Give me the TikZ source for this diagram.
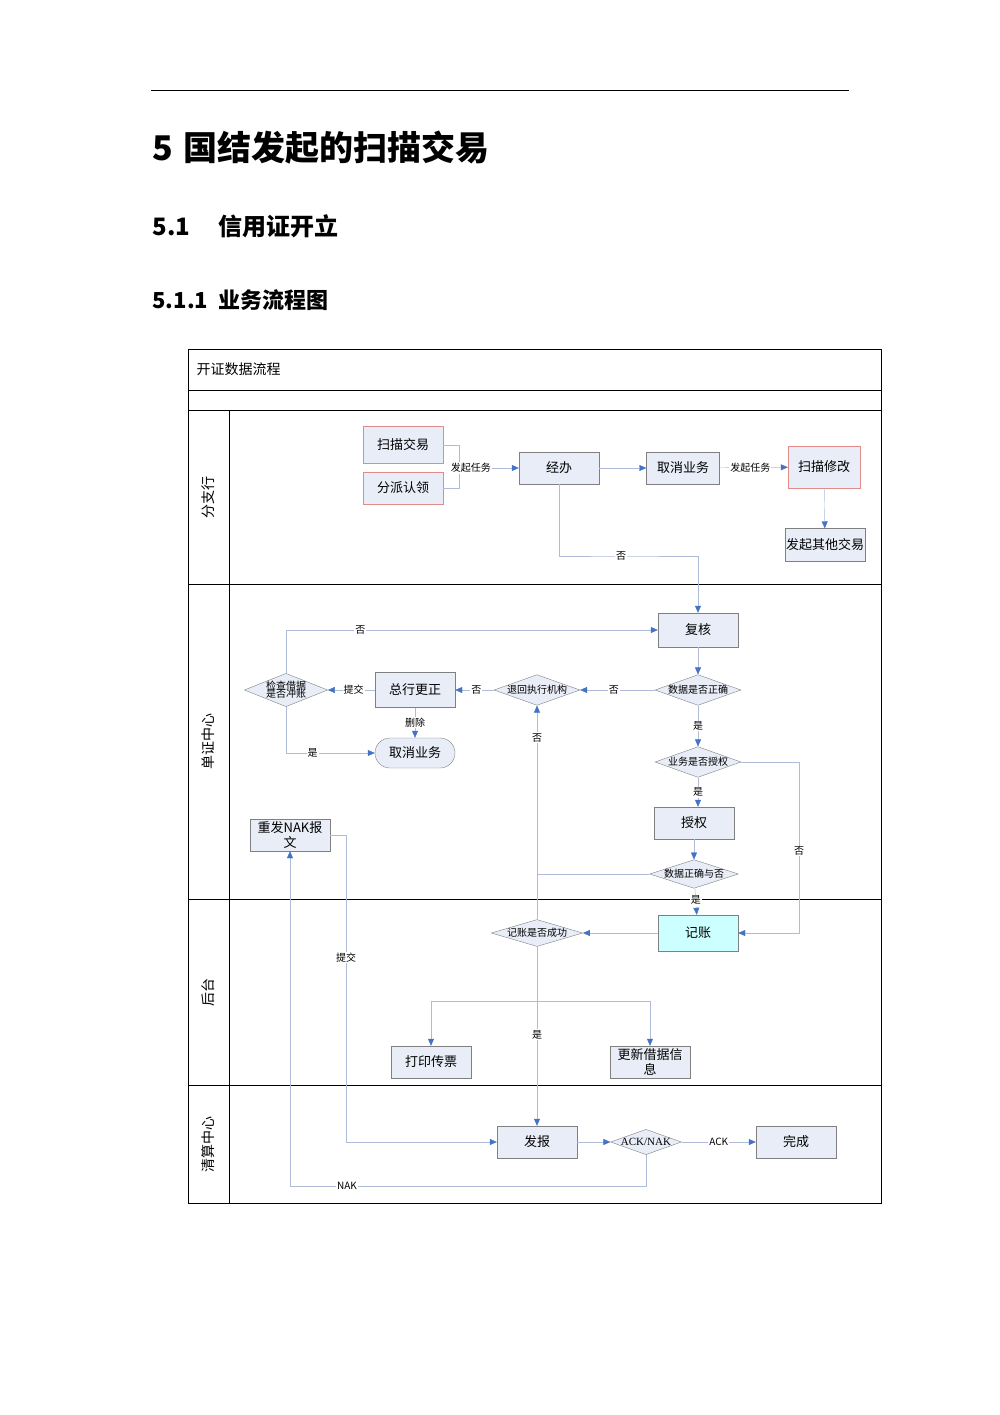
\documentclass[tikz,border=0pt]{standalone}
\usepackage{fontspec}
\setmainfont{Liberation Serif}
\newfontfamily\cjk{Noto Sans CJK SC}
\usetikzlibrary{arrows.meta,shapes.geometric}
\definecolor{boxfill}{HTML}{E8EDF7}
\definecolor{boxdraw}{HTML}{808080}
\definecolor{ln}{HTML}{AEBCD8}
\definecolor{ab}{HTML}{4472C4}
\definecolor{redb}{HTML}{E08A8A}
\definecolor{cyanf}{HTML}{CCFFFF}
\begin{document}
\begin{tikzpicture}[x=1pt,y=-1pt,
  box/.style={draw=boxdraw,fill=boxfill,minimum width=80pt,minimum height=32pt,inner sep=1pt,font=\cjk\fontsize{13}{15}\selectfont,align=center},
  rbox/.style={box,draw=redb},
  dia/.style={diamond,aspect=2.8,draw=boxdraw,fill=boxfill,inner sep=0pt,font=\cjk\fontsize{10}{11}\selectfont,align=center},
  ar/.style={draw=ln,-{Triangle[length=7pt,width=6pt,color=ab]}},
  ln/.style={draw=ln},
  lab/.style={fill=white,inner sep=1pt,font=\cjk\fontsize{10}{11}\selectfont},
  lane/.style={font=\cjk\fontsize{14}{16}\selectfont,rotate=90}]
\useasboundingbox (0,0) rectangle (1000,1415);
\draw[line width=1pt] (151,91) -- (849,91);
\node[anchor=west,font=\cjk\bfseries\fontsize{34}{38}\selectfont] (h1) at (149,148) {5\hspace{10pt}国结发起的扫描交易};
\node[anchor=west,font=\cjk\bfseries\fontsize{24}{28}\selectfont] (h2) at (149,226) {5.1\hspace{28pt}信用证开立};
\node[anchor=west,font=\cjk\bfseries\fontsize{22}{26}\selectfont] (h3) at (149,300) {5.1.1\hspace{10pt}业务流程图};
% frame
\draw[line width=1pt] (188,349) rectangle (881,1203);
\draw[line width=1pt] (188,390) -- (881,390);
\foreach \y in {410,584,899,1085} \draw[line width=1pt] (188,\y) -- (881,\y);
\draw[line width=1pt] (229,410) -- (229,1203);
\node[anchor=west,font=\cjk\fontsize{14}{16}\selectfont] (t) at (193,369) {开证数据流程};
\node[lane] (l1) at (208,497) {分支行};
\node[lane] (l2) at (208,741) {单证中心};
\node[lane] (l3) at (208,992) {后台};
\node[lane] (l4) at (208,1144) {清算中心};
% nodes
\node[rbox,minimum height=37pt] (sm) at (403,445) {扫描交易};
\node[rbox] (fp) at (403,488) {分派认领};
\node[box] (jb) at (559,468) {经办};
\node[box,minimum width=73pt] (qx1) at (683,468) {取消业务};
\node[rbox,minimum width=72pt,minimum height=42pt] (xg) at (824,467) {扫描修改};
\node[box,minimum height=33pt] (qt) at (825,545) {发起其他交易};
\node[box,minimum height=34pt] (fh) at (698,630) {复核};
\node[dia] (zq) at (698,690) {数据是否正确};
\node[dia] (th) at (537,690) {退回执行机构};
\node[box,minimum height=35pt] (gz) at (415,690) {总行更正};
\node[dia,aspect=2.5] (jc) at (286,690) {检查借据\\[-3pt]是否冲账};
\node[box,rounded corners=15pt,minimum height=30pt] (qx2) at (415,753) {取消业务};
\node[dia] (sq) at (698,762) {业务是否授权};
\node[box] (shq) at (694,823) {授权};
\node[dia,aspect=3.1] (zq2) at (694,874) {数据正确与否};
\node[box,text width=78pt] (nak) at (290,835) {重发NAK报\\文};
\node[box,fill=cyanf,minimum height=36pt] (jz) at (698,933) {记账};
\node[dia,aspect=3.4] (cg) at (537,933) {记账是否成功};
\node[box] (dy) at (431,1062) {打印传票};
\node[box,text width=78pt] (gx) at (650,1062) {更新借据信\\息};
\node[box] (fb) at (537,1142) {发报};
\node[dia,aspect=2.8,font=\fontsize{11}{12}\selectfont] (ack) at (646,1142) {ACK/NAK};
\node[box] (wc) at (796,1142) {完成};
% edges
\coordinate (b1) at (459,468);
\draw[ln] (sm.east) -| (b1);
\draw[ln] (fp.east) -| (b1);
\draw[ar] (b1) -- node[lab,pos=0.2]{发起任务} (jb.west);
\draw[ar] (jb) -- (qx1);
\draw[ar] (qx1) -- node[lab,pos=0.45]{发起任务} (xg);
\draw[ar] (xg) -- (qt);
\draw[ar] (jb.south) |- (621,556) node[lab]{否} -| (fh.north);
\draw[ar] (fh) -- (zq);
\draw[ar] (zq) -- node[lab,pos=0.55]{否} (th);
\draw[ar] (th) -- node[lab,pos=0.45]{否} (gz);
\draw[ar] (gz) -- node[lab,pos=0.45]{提交} (jc);
\draw[ar] (gz) -- node[lab]{删除} (qx2);
\draw[ar] (jc.north) |- node[lab,pos=0.6]{否} (fh.west);
\draw[ar] (jc.south) |- node[lab,pos=0.65]{是} (qx2.west);
\draw[ar] (zq) -- node[lab]{是} (sq);
\draw[ar] (sq) -- node[lab]{是} (shq.north -| sq);
\draw[ar] (sq.east) -| (799,851) node[lab]{否} |- (jz.east);
\draw[ar] (shq) -- (zq2);
\draw[ar] (zq2) -- node[lab,pos=0.45]{是} (jz);
\coordinate (j1) at (537,874);
\draw[ln] (zq2.west) -- (j1);
\draw[ar] (cg.north) -- node[lab,pos=0.85]{否} (th.south);
\draw[ar] (jz) -- (cg);
\draw[ar] (cg.south) -- node[lab,pos=0.49]{是} (fb.north);
\coordinate (br) at (537,1001);
\draw[ar] (br) -| (dy.north);
\draw[ar] (br) -| (gx.north);
\draw[ar] (fb) -- (ack);
\draw[ar] (ack) -- node[lab]{ACK} (wc);
\draw[ar] (ack.south) |- node[lab,pos=0.92]{NAK} (290,1186) -- (nak.south);
\draw[ar] (nak.east) -| node[lab,pos=0.7]{提交} (346,1142) -- (fb.west);
\end{tikzpicture}
\end{document}
